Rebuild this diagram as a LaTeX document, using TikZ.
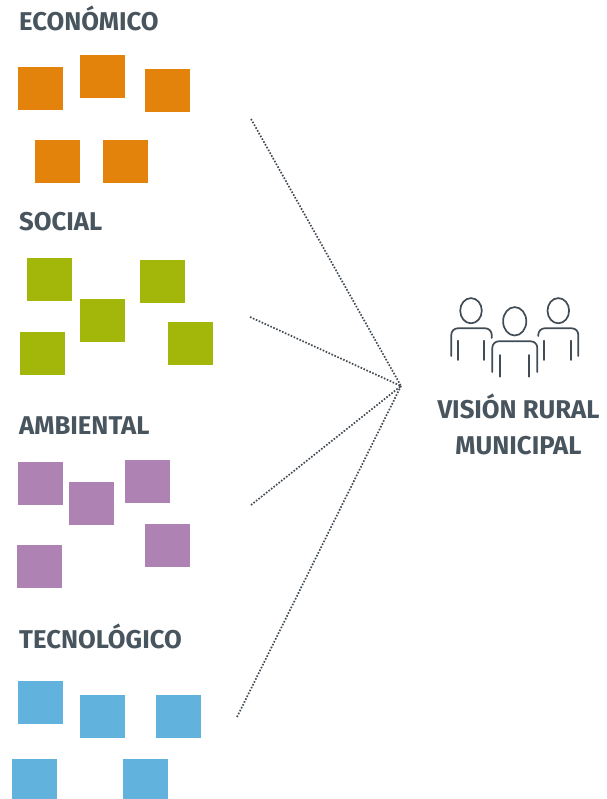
\documentclass[tikz,border=0pt]{standalone}
\usepackage{fontspec}
\setmainfont{Fira Sans}[BoldFont={Fira Sans Bold}]
\definecolor{txt}{HTML}{48555E}
\definecolor{icn}{HTML}{414C55}
\definecolor{ora}{HTML}{E3830B}
\definecolor{gre}{HTML}{A3B70B}
\definecolor{pur}{HTML}{AE82B3}
\definecolor{blu}{HTML}{62B2DE}
\tikzset{
  card/.style={anchor=north west,minimum width=45pt,minimum height=43pt,inner sep=0pt,outer sep=0pt,draw=none},
  head/.style={anchor=base west,inner sep=0pt,font=\fontsize{25.7}{29}\selectfont\bfseries,text=txt},
  link/.style={line width=1.7pt,dash pattern=on 1.6pt off 1.6pt,color=icn},
  icon/.style={line width=1.7pt,color=icn,line cap=round},
}
\begin{document}
\begin{tikzpicture}[x=1pt,y=-1pt]
\useasboundingbox (0,0) rectangle (606,799);
\node[head] (h1) at (19,31) {ECONÓMICO};
\node[head] (h2) at (19,231) {SOCIAL};
\node[head] (h3) at (19,434) {AMBIENTAL};
\node[head] (h4) at (19,648) {TECNOLÓGICO};
\foreach \n/\x/\y in {a/18/67,b/80/55,c/145/69,d/35/140,e/103/140}
  \node[card,fill=ora] (o\n) at (\x,\y) {};
\foreach \n/\x/\y in {a/27/258,b/140/260,c/80/299,d/20/332,e/168/322}
  \node[card,fill=gre] (g\n) at (\x,\y) {};
\foreach \n/\x/\y in {a/18/462,b/125/460,c/69/482,d/145/524,e/17/545}
  \node[card,fill=pur] (p\n) at (\x,\y) {};
\foreach \n/\x/\y in {a/18/681,b/80/695,c/156/695,d/12/759,e/123/759}
  \node[card,fill=blu] (b\n) at (\x,\y) {};
\coordinate (hub) at (401,386);
\coordinate (l1) at (251,119);
\coordinate (l2) at (250,317);
\coordinate (l3) at (251,505);
\coordinate (l4) at (237,717);
\draw[link] (l1) -- (hub);
\draw[link] (l2) -- (hub);
\draw[link] (l3) -- (hub);
\draw[link] (l4) -- (hub);
% people icon
\draw[icon] (471,310.7) ellipse [x radius=10.8pt,y radius=12.6pt];
\draw[icon] (558.3,310.7) ellipse [x radius=10.8pt,y radius=12.6pt];
\draw[icon] (514.7,321.3) ellipse [x radius=11.6pt,y radius=14.2pt];
\draw[icon,rounded corners=6.5pt] (451.3,356) -- (451.3,328.3) -- (491.7,328.3) -- (491.7,338);
\draw[icon,rounded corners=6.5pt] (538.3,336) -- (538.3,328.3) -- (578.3,328.3) -- (578.3,356);
\draw[icon,rounded corners=6.5pt] (492.3,372) -- (492.3,341.3) -- (537.3,341.3) -- (537.3,372);
\foreach \x in {458.3,483.7,544,571} \draw[icon] (\x,340.7) -- (\x,360);
\foreach \x in {500,529.3} \draw[icon] (\x,355) -- (\x,376.7);
\node[anchor=base,inner sep=0pt,font=\fontsize{25.7}{29}\selectfont\bfseries,text=txt] (v1) at (518.5,418) {VISIÓN RURAL};
\node[anchor=base,inner sep=0pt,font=\fontsize{25.7}{29}\selectfont\bfseries,text=txt] (v2) at (518.5,454) {MUNICIPAL};
\end{tikzpicture}
\end{document}
